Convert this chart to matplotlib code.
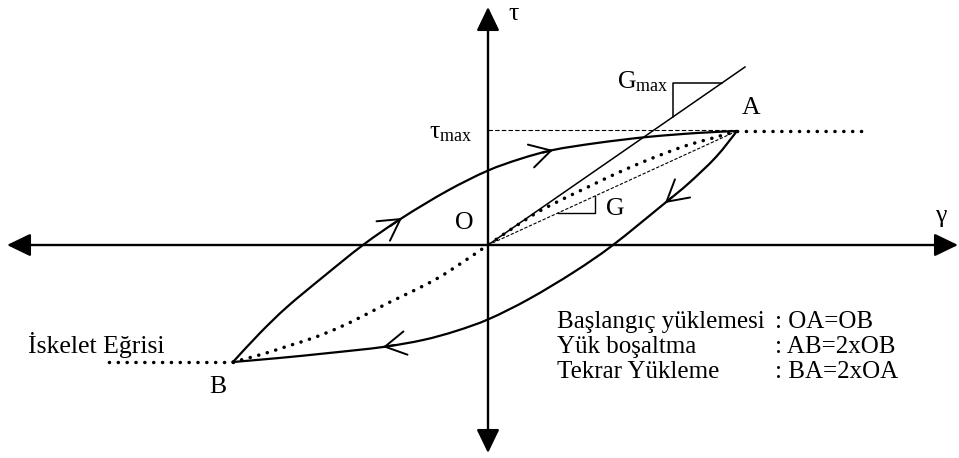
import matplotlib
matplotlib.use("Agg")
import matplotlib.pyplot as plt
from matplotlib.path import Path
from matplotlib.patches import PathPatch

plt.rcParams['font.family'] = ['Liberation Serif', 'DejaVu Serif']
plt.rcParams['mathtext.fontset'] = 'custom'
plt.rcParams['mathtext.rm'] = 'Liberation Serif'
plt.rcParams['mathtext.it'] = 'Liberation Serif:italic'

# turning points of the cycle (strain, stress)
gamma_A, tau_A = 249, 114
gamma_B, tau_B = -255, -117
tau_max = 115
gamma_end_pos, gamma_end_neg = 379, -380

# skeleton (backbone) curve from B through O to A
skel_gamma = [-255, -225, -200, -175, -150, -125, -100, -75, -50, -25, 0,
              25, 50, 75, 100, 125, 150, 175, 200, 225, 249]
skel_tau = [-117, -109, -101, -93, -83, -71, -58, -46, -33, -17, 0,
            17, 33, 46, 58, 70, 81, 91, 100, 107, 114]

# reloading branch B -> A
reload_gamma = [-255, -228, -201, -165, -125, -86, -41, -1, 32, 65, 109, 159, 209, 249]
reload_tau = [-117, -88, -62, -32, 0, 27, 54, 74, 86, 95, 102, 108, 112, 114]

# unloading branch A -> B
unload_gamma = [249, 228, 201, 177, 125, 86, 41, 1, -32, -65, -105, -159, -209, -255]
unload_tau = [114, 88, 62, 42, 0, -27, -54, -74, -86, -95, -102, -108, -113, -117]

# initial tangent (Gmax) line end
gmax_end = (257, 178)

legend_left = ["Başlangıç yüklemesi", "Yük boşaltma", "Tekrar Yükleme"]
legend_right = [": OA=OB", ": AB=2xOB", ": BA=2xOA"]


def smooth_path(xs, ys):
    """Cubic Bezier path passing through every given point (Catmull-Rom)."""
    pts = list(zip(xs, ys))
    n = len(pts)
    verts = [pts[0]]
    codes = [Path.MOVETO]
    for i in range(n - 1):
        p0 = pts[max(i - 1, 0)]
        p1 = pts[i]
        p2 = pts[i + 1]
        p3 = pts[min(i + 2, n - 1)]
        c1 = (p1[0] + (p2[0] - p0[0]) / 6, p1[1] + (p2[1] - p0[1]) / 6)
        c2 = (p2[0] - (p3[0] - p1[0]) / 6, p2[1] - (p3[1] - p1[1]) / 6)
        verts += [c1, c2, p2]
        codes += [Path.CURVE4] * 3
    return Path(verts, codes)


fig = plt.figure(figsize=(9.59, 4.58), dpi=100)
ax = fig.add_axes([0, 0, 1, 1])
ax.set_xlim(-488, 471)
ax.set_ylim(-213, 245)
ax.axis('off')

k = 'black'

# coordinate axes with filled arrow heads
axis_style = '<|-|>,head_length=1.45,head_width=0.7'
ax.annotate('', xy=(470, 0), xytext=(-481, 0),
            arrowprops=dict(arrowstyle=axis_style, color=k, lw=1.7,
                            shrinkA=0, shrinkB=0))
ax.annotate('', xy=(0, 238), xytext=(0, -208),
            arrowprops=dict(arrowstyle=axis_style, color=k, lw=1.7,
                            shrinkA=0, shrinkB=0))

# skeleton curve (dotted)
dot_ls = (0, (0.05, 2.5))
ax.add_patch(PathPatch(smooth_path(skel_gamma, skel_tau), fill=False,
                       edgecolor=k, lw=2.5, linestyle=dot_ls, capstyle='round'))
ax.plot([gamma_A, gamma_end_pos], [tau_A, tau_A], color=k, lw=2.5,
        linestyle=dot_ls, dash_capstyle='round')
ax.plot([gamma_B, gamma_end_neg], [tau_B, tau_B], color=k, lw=2.5,
        linestyle=dot_ls, dash_capstyle='round')

# hysteresis loop
for gx, gy in [(reload_gamma, reload_tau), (unload_gamma, unload_tau)]:
    ax.add_patch(PathPatch(smooth_path(gx, gy), fill=False, edgecolor=k,
                           lw=1.6, joinstyle='round'))

# open direction chevrons on the loop
chev = '->,head_length=1.5,head_width=0.85'


def chevron(gx, gy, i):
    tip = (gx[i], gy[i])
    tail = (tip[0] + 0.3 * (gx[i - 1] - tip[0]), tip[1] + 0.3 * (gy[i - 1] - tip[1]))
    ax.annotate('', xy=tip, xytext=tail,
                arrowprops=dict(arrowstyle=chev, color=k, lw=1.4,
                                shrinkA=0, shrinkB=0))


chevron(reload_gamma, reload_tau, 5)
chevron(reload_gamma, reload_tau, 9)
chevron(unload_gamma, unload_tau, 3)
chevron(unload_gamma, unload_tau, 10)

# Gmax tangent and its slope triangle
ax.plot([0, gmax_end[0]], [0, gmax_end[1]], color=k, lw=1.1)
gslope = gmax_end[1] / gmax_end[0]
cx, cy = 185, 162
ax.plot([cy / gslope, cx, cx], [cy, cy, cx * gslope], color=k, lw=1.1)

# secant G line and its slope triangle
ax.plot([0, gamma_A], [0, tau_A], color=k, lw=0.8, linestyle=(0, (3, 1.5)))
sslope = tau_A / gamma_A
sx, sy = 107, 32
ax.plot([sy / sslope, sx, sx], [sy, sy, sx * sslope], color=k, lw=1.0)

# tau_max level
ax.plot([0, gamma_A], [tau_max, tau_max], color=k, lw=0.8, linestyle=(0, (4, 2)))

fs = 18.5
ax.text(26, 231, 'τ', fontsize=fs, ha='center', va='center')
ax.text(453, 29, 'γ', fontsize=fs, ha='center', va='center')
ax.text(-16, 107, r'$\mathregular{\tau_{max}}$', fontsize=fs, ha='right', va='baseline')
ax.text(129, 157, r'$\mathregular{G_{max}}$', fontsize=fs, ha='left', va='baseline')
ax.text(263, 137, 'A', fontsize=fs, ha='center', va='center')
ax.text(-24, 22, 'O', fontsize=fs, ha='center', va='center')
ax.text(127, 36, 'G', fontsize=fs, ha='center', va='center')
ax.text(-270, -142, 'B', fontsize=fs, ha='center', va='center')
ax.text(-460, -100, 'İskelet Eğrisi', fontsize=fs, ha='left', va='center')

leg_y = [-77, -102, -127]
for y, a, b in zip(leg_y, legend_left, legend_right):
    ax.text(69, y, a, fontsize=18, ha='left', va='center')
    ax.text(287, y, b, fontsize=18, ha='left', va='center')

fig.savefig('out.png', dpi=100)
